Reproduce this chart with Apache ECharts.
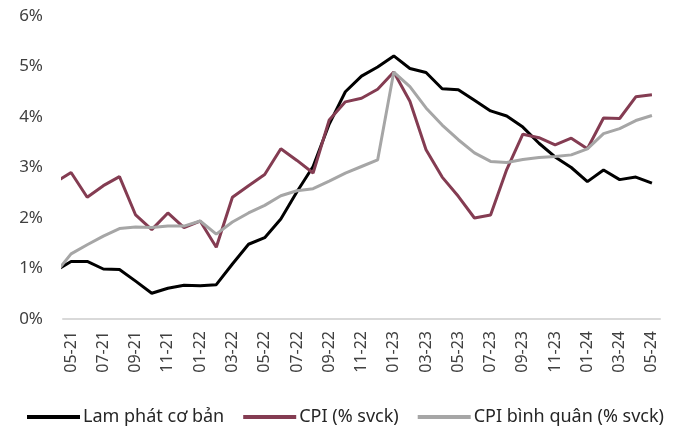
<!DOCTYPE html>
<html>
<head>
<meta charset="utf-8">
<script src="https://cdn.jsdelivr.net/npm/echarts@6/dist/echarts.min.js"></script>
<style>
  html, body { margin: 0; padding: 0; background: #fff; }
  #main { width: 681px; height: 427px; }
</style>
</head>
<body>
<div id="main"></div>
<script>
// tháng: điểm đầu 04-21 bị cắt ở mép trái, nhãn trục bắt đầu từ 05-21
var months = ['04-21',
  '05-21','06-21','07-21','08-21','09-21','10-21','11-21','12-21',
  '01-22','02-22','03-22','04-22','05-22','06-22','07-22','08-22','09-22','10-22','11-22','12-22',
  '01-23','02-23','03-23','04-23','05-23','06-23','07-23','08-23','09-23','10-23','11-23','12-23',
  '01-24','02-24','03-24','04-24','05-24'];

var coreInflation = [0.95,
  1.14, 1.14, 0.99, 0.98, 0.75, 0.51, 0.61, 0.67,
  0.66, 0.68, 1.09, 1.48, 1.61, 1.98, 2.52, 3.02, 3.86, 4.50, 4.81, 4.99,
  5.21, 4.96, 4.88, 4.56, 4.54, 4.33, 4.12, 4.02, 3.80, 3.48, 3.21, 3.00,
  2.72, 2.95, 2.76, 2.81, 2.69];

var cpiYoY = [2.70,
  2.90, 2.41, 2.64, 2.82, 2.06, 1.77, 2.10, 1.81,
  1.94, 1.42, 2.41, 2.64, 2.86, 3.37, 3.14, 2.89, 3.94, 4.30, 4.37, 4.55,
  4.89, 4.31, 3.35, 2.81, 2.43, 2.00, 2.06, 2.96, 3.66, 3.59, 3.45, 3.58,
  3.37, 3.98, 3.97, 4.40, 4.44];

var cpiAvg = [0.89,
  1.29, 1.47, 1.64, 1.79, 1.82, 1.81, 1.84, 1.84,
  1.94, 1.68, 1.92, 2.10, 2.25, 2.44, 2.54, 2.58, 2.73, 2.89, 3.02, 3.15,
  4.89, 4.60, 4.18, 3.84, 3.55, 3.29, 3.12, 3.10, 3.16, 3.20, 3.22, 3.25,
  3.37, 3.67, 3.77, 3.93, 4.03];

var names = ['Lam phát cơ bản', 'CPI (% svck)', 'CPI bình quân (% svck)'];

function toPoints(arr) {
  return arr.map(function (v, i) { return [i - 1, v]; });
}

var myChart = echarts.init(document.getElementById('main'));
var font = '"Noto Sans", sans-serif';

var option = {
  animation: false,
  textStyle: { fontFamily: font },
  grid: { left: 63, right: 21, top: 16, bottom: 108 },
  legend: {
    data: names,
    bottom: -4,
    left: 22,
    width: 660,
    icon: 'rect',
    itemWidth: 53,
    itemHeight: 4,
    itemGap: 19,
    textStyle: { fontSize: 18, color: '#262626', fontFamily: font, padding: [0, 0, 0, -2] }
  },
  xAxis: [
    {
      type: 'value',
      position: 'bottom',
      min: -0.5,
      max: 36.5,
      axisLine: { show: true, lineStyle: { color: '#d9d9d9', width: 2 } },
      axisTick: { show: false },
      axisLabel: { show: false },
      splitLine: { show: false }
    },
    {
      type: 'category',
      position: 'bottom',
      data: months.slice(1),
      boundaryGap: true,
      axisLine: { show: false },
      axisTick: { show: false },
      axisLabel: {
        interval: 1,
        rotate: 90,
        margin: 12,
        fontSize: 16,
        color: '#404040',
        fontFamily: font
      }
    }
  ],
  yAxis: {
    type: 'value',
    min: 0,
    max: 6,
    interval: 1,
    axisLine: { show: false },
    axisTick: { show: false },
    splitLine: { show: false },
    axisLabel: {
      formatter: '{value}%',
      margin: 20,
      fontSize: 17,
      color: '#404040',
      fontFamily: font
    }
  },
  series: [
    {
      name: names[0],
      type: 'line',
      xAxisIndex: 0,
      color: '#000000',
      showSymbol: false,
      lineStyle: { width: 3 },
      data: toPoints(coreInflation)
    },
    {
      name: names[1],
      type: 'line',
      xAxisIndex: 0,
      color: '#843c52',
      showSymbol: false,
      lineStyle: { width: 3 },
      data: toPoints(cpiYoY)
    },
    {
      name: names[2],
      type: 'line',
      xAxisIndex: 0,
      color: '#a6a6a6',
      showSymbol: false,
      lineStyle: { width: 3 },
      data: toPoints(cpiAvg)
    }
  ]
};

myChart.setOption(option);
</script>
</body>
</html>
